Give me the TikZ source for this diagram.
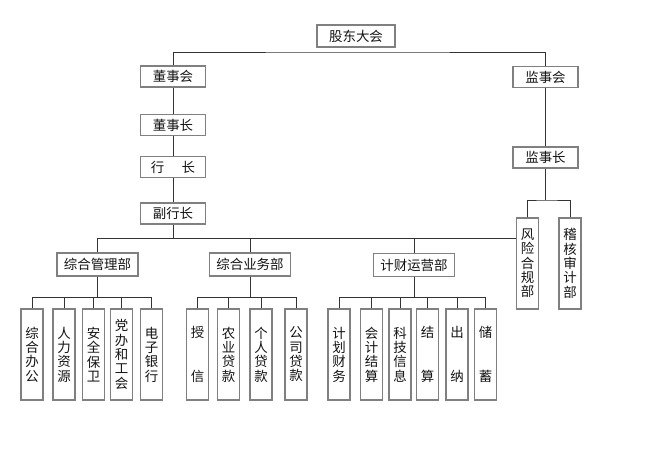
\documentclass[tikz,border=0pt]{standalone}
\usepackage{fontspec}
\newfontfamily\cjk{Noto Sans CJK SC}
\begin{document}
\begin{tikzpicture}[x=1bp,y=-1bp,
  box/.style={draw=black!50,line width=1.3bp,fill=white,inner sep=0pt,text=black!92,
    font=\cjk\fontsize{13.5}{14.4}\selectfont},
  hbox/.style={box,minimum width=65bp,minimum height=21bp},
  dbox/.style={box,minimum width=81bp,minimum height=23bp},
  vbox/.style={box,minimum width=22bp,minimum height=91bp,align=center,text width=14bp},
  conn/.style={draw=black!80,line width=0.9bp}]
\useasboundingbox (0,0) rectangle (664,469);
% top
\node[box,minimum width=78bp,minimum height=22bp] (gd) at (356,36) {股东大会};
\node[hbox] (dsh) at (173,76.5) {董事会};
\node[hbox] (dsz) at (173,125) {董事长};
\node[hbox] (hz) at (173,167) {行\hspace{1.3em}长};
\node[hbox] (fhz) at (173,213.5) {副行长};
\node[hbox] (jsh) at (545.5,77) {监事会};
\node[hbox] (jsz) at (545.5,157.5) {监事长};
\node[vbox] (fx) at (527.5,263.5) {风\\险\\合\\规\\部};
\node[vbox] (jh) at (570,263.5) {稽\\核\\审\\计\\部};
% departments
\node[dbox] (zg) at (97.5,264.5) {综合管理部};
\node[dbox] (zy) at (250,264.5) {综合业务部};
\node[dbox] (jc) at (414,265) {计财运营部};
% children
\node[vbox] (a1) at (32,354.5) {综\\合\\办\\公};
\node[vbox] (a2) at (64,354.5) {人\\力\\资\\源};
\node[vbox] (a3) at (93.5,354.5) {安\\全\\保\\卫};
\node[vbox] (a4) at (121.5,354.5) {党\\办\\和\\工\\会};
\node[vbox] (a5) at (151.5,354.5) {电\\子\\银\\行};
\node[vbox] (b1) at (197.5,354.5) {授\\[29bp]信};
\node[vbox] (b2) at (228.5,354.5) {农\\业\\贷\\款};
\node[vbox] (b3) at (261,354.5) {个\\人\\贷\\款};
\node[vbox] (b4) at (296,354.5) {公\\司\\贷\\款};
\node[vbox] (c1) at (339,354.5) {计\\划\\财\\务};
\node[vbox] (c2) at (371.5,354.5) {会\\计\\结\\算};
\node[vbox] (c3) at (400,354.5) {科\\技\\信\\息};
\node[vbox] (c4) at (427.5,354.5) {结\\[29bp]算};
\node[vbox] (c5) at (457,354.5) {出\\[29bp]纳};
\node[vbox] (c6) at (485.5,354.5) {储\\[29bp]蓄};
% coordinates for buses
\coordinate (topbus) at (356,52);
\coordinate (mainbus) at (300,238);
\coordinate (subbus) at (300,297);
\coordinate (jbus) at (545,200);
% connectors
\draw[conn] (dsh.north) |- (topbus) -| (jsh.north);
\draw[conn] (dsh) -- (dsz);
\draw[conn] (dsz) -- (hz);
\draw[conn] (hz) -- (fhz);
\draw[conn] (fhz.south) -- (fhz.south |- mainbus);
\draw[conn] (zg.north) |- (fx.west |- mainbus);
\draw[conn] (zy.north) -- (zy.north |- mainbus);
\draw[conn] (jc.north) -- (jc.north |- mainbus);
\draw[conn] (jsh) -- (jsz);
\draw[conn] (jsz.south) -- (jsz.south |- jbus);
\draw[conn] (fx.north) |- (jbus) -| (jh.north);
% sub buses
\draw[conn] (zg.south) -- (zg.south |- subbus);
\draw[conn] (a1.north |- subbus) -- (a5.north |- subbus);
\foreach \n in {a1,a2,a3,a4,a5,b1,b2,b3,b4,c1,c2,c3,c4,c5,c6}
  \draw[conn] (\n.north) -- (\n.north |- subbus);
\draw[conn] (zy.south) -- (zy.south |- subbus);
\draw[conn] (b1.north |- subbus) -- (b4.north |- subbus);
\draw[conn] (jc.south) -- (jc.south |- subbus);
\draw[conn] (c1.north |- subbus) -- (c6.north |- subbus);
\end{tikzpicture}
\end{document}
